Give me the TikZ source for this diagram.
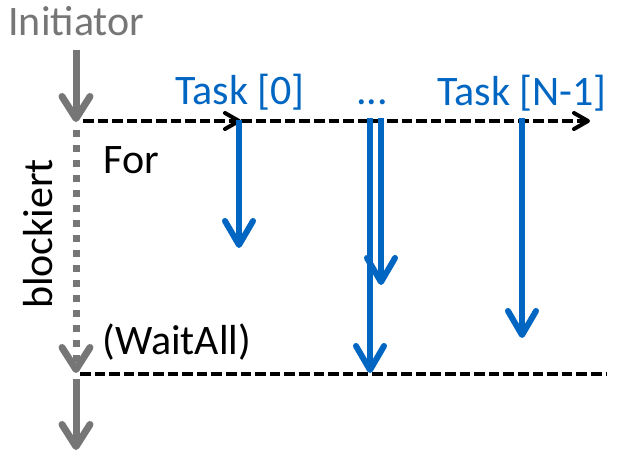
\documentclass[tikz,border=0pt]{standalone}
\usepackage{fontspec}
\setmainfont{Carlito}
\usetikzlibrary{arrows.meta, positioning}
\definecolor{taskblue}{RGB}{0,102,194}
\definecolor{initgray}{RGB}{118,118,118}

\begin{document}
\begin{tikzpicture}[x=0.5pt, y=-0.5pt,
    lbl/.style={inner sep=0pt, font=\fontsize{21}{25}\selectfont},
    grayflow/.style={draw=initgray, line width=3.5pt, -{Straight Barb[length=11pt, width=14pt, round]}},
    blocked/.style={grayflow, dash pattern=on 3.5pt off 4pt},
    taskflow/.style={draw=taskblue, line width=3pt, -{Straight Barb[length=12pt, width=14pt, round]}},
    forloop/.style={draw=black, line width=2pt, dash pattern=on 5.3pt off 2pt, -{Straight Barb[length=7pt, width=8pt, round]}},
    joinline/.style={draw=black, line width=2pt, dash pattern=on 5.3pt off 2pt}]
    \useasboundingbox (0,0) rectangle (643,467);

    % Labels
    \node[lbl, text=initgray, anchor=base west] (initiator) at (8,35) {Initiator};
    \node[lbl, text=taskblue, anchor=base west] (task0) at (175,104) {Task [0]};
    \node[lbl, text=taskblue, anchor=base west] (dots) at (356,104) {...};
    \node[lbl, text=taskblue, anchor=base west] (taskn) at (437,105) {Task [N-1]};
    \node[lbl, anchor=base west] (for) at (103,173) {For};
    \node[lbl, anchor=base west] (waitall) at (102,354) {(WaitAll)};
    \node[lbl, rotate=90, anchor=base] (blockiert) at (52,234) {blockiert};

    % Initiator line
    \coordinate (istart) at (76,50);
    \coordinate (fork) at (76,122);
    \coordinate (join) at (76,373);
    \coordinate (iend) at (76,450);
    \draw[grayflow] (istart) -- (fork);
    \draw[blocked] ([yshift=-4]fork) -- (join);
    \draw[grayflow] ([yshift=-3]join) -- (iend);

    % For loop
    \coordinate (fstart) at (83,121);
    \coordinate (t0) at (241,121);
    \coordinate (fend) at (590,121);
    \draw[forloop] (fstart) -- (t0);
    \draw[forloop] (t0) -- (fend);

    % WaitAll
    \coordinate (wstart) at (80,374);
    \coordinate (wend) at (606,374);
    \draw[joinline] (wstart) -- (wend);

    % Tasks
    \coordinate (a0) at (239,120);
    \coordinate (b0) at (239,248);
    \coordinate (a1) at (370,118);
    \coordinate (b1) at (370,373);
    \coordinate (a2) at (381,118);
    \coordinate (b2) at (381,285);
    \coordinate (a3) at (522,118);
    \coordinate (b3) at (522,338);
    \foreach \i in {0,...,3}
        \draw[taskflow] (a\i) -- (b\i);
\end{tikzpicture}
\end{document}
